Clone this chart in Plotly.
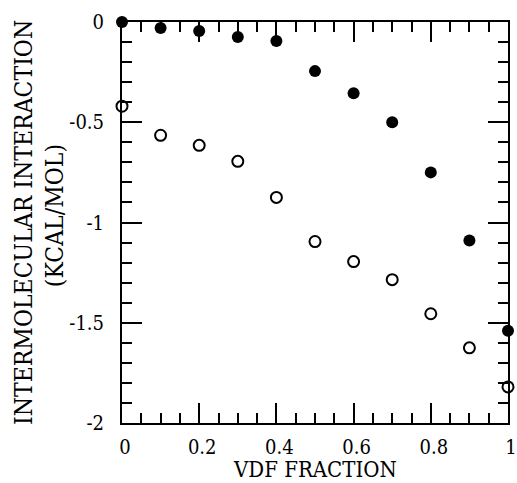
import plotly.graph_objects as go

vdf_fraction = [0.0, 0.1, 0.2, 0.3, 0.4, 0.5, 0.6, 0.7, 0.8, 0.9, 1.0]
filled_series = [0.0, -0.03, -0.045, -0.075, -0.095, -0.245, -0.355, -0.50, -0.75, -1.09, -1.54]
open_series = [-0.42, -0.565, -0.615, -0.695, -0.875, -1.095, -1.195, -1.285, -1.455, -1.625, -1.82]
x_ticks = [0, 0.2, 0.4, 0.6, 0.8, 1]
x_tick_labels = ["0", "0.2", "0.4", "0.6", "0.8", "1"]
y_ticks = [0, -0.5, -1, -1.5, -2]
y_tick_labels = ["0", "-0.5", "-1", "-1.5", "-2"]

SERIF = "DejaVu Serif Condensed"

fig = go.Figure()
fig.add_trace(go.Scatter(
    x=vdf_fraction, y=filled_series, mode="markers",
    marker=dict(symbol="circle", size=12, color="black", line=dict(width=0)),
    cliponaxis=False, showlegend=False))
fig.add_trace(go.Scatter(
    x=vdf_fraction, y=open_series, mode="markers",
    marker=dict(symbol="circle-open", size=11, color="black", line=dict(width=2, color="black")),
    cliponaxis=False, showlegend=False))

axis_common = dict(
    showgrid=False, zeroline=False, showline=True, linecolor="black", linewidth=2,
    mirror="allticks", ticks="inside", ticklen=20, tickwidth=2, tickcolor="black",
    automargin=False, ticklabeloverflow="allow",
    tickfont=dict(family=SERIF, size=20, color="black"),
)

fig.update_xaxes(
    range=[0, 1], tickmode="array", tickvals=x_ticks, ticktext=x_tick_labels,
    minor=dict(dtick=0.05, tick0=0, ticks="inside", ticklen=10, tickwidth=2, tickcolor="black"),
    ticklabelstandoff=5, ticklabelshift=3,
    **axis_common)
fig.update_yaxes(
    range=[-2, 0], tickmode="array", tickvals=y_ticks, ticktext=y_tick_labels,
    minor=dict(dtick=0.1, tick0=0, ticks="inside", ticklen=10, tickwidth=2, tickcolor="black"),
    ticklabelstandoff=12,
    **axis_common)

fig.add_annotation(text="VDF FRACTION", xref="paper", yref="paper", x=0.5, y=-0.151,
                   xanchor="center", yanchor="bottom", showarrow=False,
                   font=dict(family=SERIF, size=22, color="black"))
fig.add_annotation(text="INTERMOLECULAR INTERACTION", textangle=-90,
                   xref="paper", yref="paper", x=-0.255, y=0.5, xanchor="center", yanchor="middle",
                   showarrow=False, font=dict(family=SERIF, size=24.5, color="black"))
fig.add_annotation(text="(KCAL/MOL)", textangle=-90,
                   xref="paper", yref="paper", x=-0.176, y=0.516, xanchor="center", yanchor="middle",
                   showarrow=False, font=dict(family=SERIF, size=24.5, color="black"))

fig.update_layout(
    width=517, height=483,
    margin=dict(l=122, r=9, t=22, b=60),
    paper_bgcolor="white", plot_bgcolor="white",
)

fig.write_html("out.html", config={"displayModeBar": False},
               post_script="document.body.style.margin='0';document.body.style.overflow='hidden';")
